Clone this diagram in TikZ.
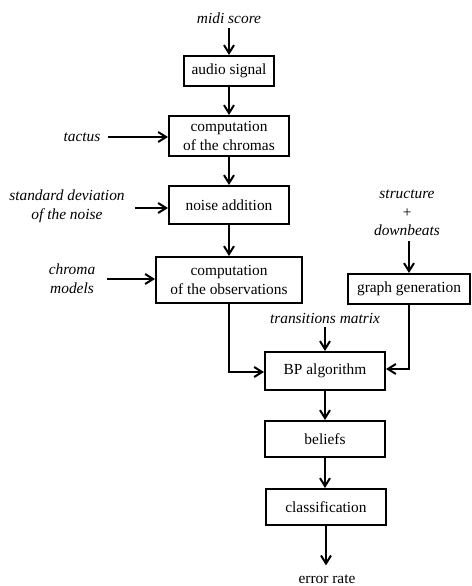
\documentclass[tikz,border=0pt]{standalone}
\usepackage{fontspec}
\setmainfont{Liberation Serif}
\usetikzlibrary{arrows.meta}
\begin{document}
\begin{tikzpicture}[x=1pt,y=-1pt,
  every node/.style={font=\rmfamily\fontsize{15.4}{18.7}\selectfont, text=black},
  box/.style={draw=black, line width=2pt, align=center, inner sep=0pt},
  inlabel/.style={font=\rmfamily\itshape\fontsize{15.4}{18.7}\selectfont, align=center, inner sep=0pt},
  flow/.style={line width=2pt, -{Straight Barb[length=8pt,width=10pt]}}
]
\useasboundingbox (0,0) rectangle (471,586);

% boxes
\node[box, minimum width=90pt, minimum height=30pt] (audio) at (229,71) {audio signal};
\node[box, minimum width=120pt, minimum height=40pt] (chromas) at (229,136) {computation\\of the chromas};
\node[box, minimum width=120pt, minimum height=38pt] (noise) at (229,205) {noise addition};
\node[box, minimum width=146pt, minimum height=46pt] (obs) at (229,280) {computation\\of the observations};
\node[box, minimum width=122pt, minimum height=30pt] (graph) at (409,289) {graph generation};
\node[box, minimum width=120pt, minimum height=38pt] (bp) at (325,371) {BP algorithm};
\node[box, minimum width=120pt, minimum height=36pt] (beliefs) at (325,439) {beliefs};
\node[box, minimum width=120pt, minimum height=36pt] (class) at (326,507) {classification};

% inputs
\node[inlabel] (midi) at (229,18) {midi score};
\node[inlabel] (tactus) at (82,137) {tactus};
\node[inlabel] (std) at (67,206.5) {standard deviation\\of the noise};
\node[inlabel] (models) at (72,279) {chroma\\models};
\node[inlabel] (struct) at (407,213) {structure\\+\\downbeats};
\node[inlabel] (trans) at (325,318) {transitions matrix};
\node[inner sep=0pt] (err) at (327,579) {error rate};

% main flow
\draw[flow, shorten <=4pt] (midi.south) -- (audio.north);
\draw[flow] (audio.south) -- (audio.south |- chromas.north);
\draw[flow] (chromas.south) -- (chromas.south |- noise.north);
\draw[flow] (noise.south) -- (noise.south |- obs.north);
\draw[flow] (bp.south) -- (bp.south |- beliefs.north);
\draw[flow] (beliefs.south) -- (beliefs.south |- class.north);
\draw[flow, shorten >=9pt] (class.south) -- (class.south |- err.north);

% side inputs
\path (tactus.east) ++(7,0) coordinate (tacstart);
\draw[flow] (tacstart) -- (chromas.west |- tacstart);
\path (std.east |- noise.west) ++(10,3) coordinate (stdstart);
\draw[flow] (stdstart) -- (noise.west |- stdstart);
\path (models.east |- obs.west) ++(12,-1) coordinate (modstart);
\draw[flow] (modstart) -- (obs.west |- modstart);
\draw[flow, shorten <=5pt] (graph.north |- struct.south) -- (graph.north);
\draw[flow, shorten <=4pt] (trans.south) -- (bp.north);

% to BP
\draw[flow] (obs.south) |- ([yshift=-1pt]bp.west);
\draw[flow] (graph.south) |- ([yshift=2pt]bp.east);
\end{tikzpicture}
\end{document}
